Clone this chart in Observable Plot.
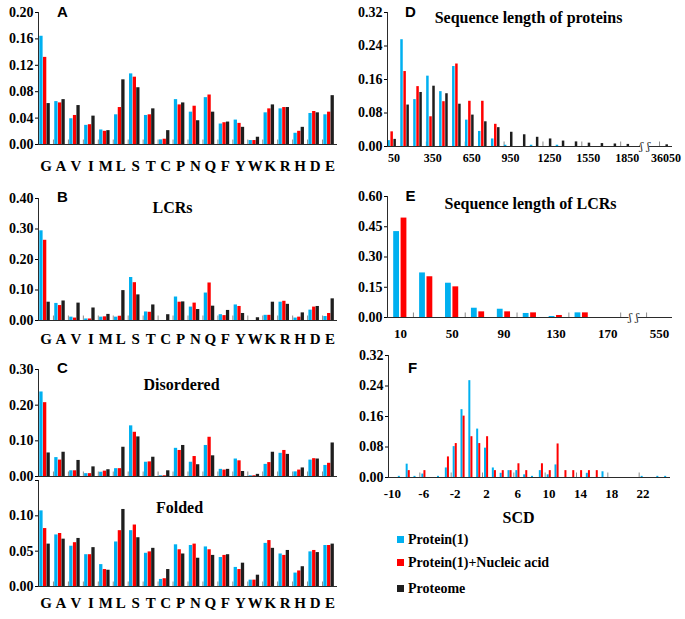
<!DOCTYPE html>
<html>
<head>
<meta charset="utf-8">
<script src="https://cdn.jsdelivr.net/npm/d3@7"></script>
<script src="https://cdn.jsdelivr.net/npm/@observablehq/plot@0.6"></script>
<style>
  body { margin: 0; background: #fff; }
  #chart { position: relative; width: 685px; height: 619px; overflow: hidden; background: #fff;
           font-family: "Liberation Serif", "Times New Roman", serif; }
  #chart svg { position: absolute; }
  .lg { position: absolute; left: 397px; height: 18px; line-height: 18px; font-size: 14px; font-weight: bold; color: #000; white-space: nowrap; }
  .lg i { display: inline-block; width: 7px; height: 7px; margin-right: 4px; vertical-align: 1px; }
</style>
</head>
<body>
<div id="chart"></div>
<script>
// ---------------- data ----------------
const aminoAcids = ["G","A","V","I","M","L","S","T","C","P","N","Q","F","Y","W","K","R","H","D","E"];

// A: whole proteins
const aProtein  = [0.164,0.065,0.039,0.029,0.022,0.045,0.107,0.044,0.007,0.068,0.049,0.071,0.031,0.037,0.006,0.048,0.054,0.017,0.047,0.045];
const aNucleic  = [0.132,0.063,0.044,0.030,0.020,0.056,0.102,0.045,0.008,0.060,0.058,0.075,0.033,0.032,0.006,0.054,0.056,0.020,0.050,0.049];
const aProteome = [0.062,0.068,0.059,0.043,0.021,0.098,0.086,0.054,0.021,0.063,0.036,0.049,0.034,0.026,0.011,0.060,0.056,0.026,0.048,0.074];

// B: LCRs
const bProtein  = [0.294,0.056,0.011,0.005,0.011,0.011,0.141,0.028,0,0.077,0.044,0.090,0.019,0.051,0,0.017,0.060,0.008,0.034,0.013];
const bNucleic  = [0.263,0.049,0.008,0.005,0.012,0.014,0.124,0.027,0,0.060,0.057,0.123,0.016,0.046,0,0.017,0.063,0.011,0.044,0.023];
const bProteome = [0.060,0.064,0.057,0.041,0.020,0.098,0.084,0.051,0.019,0.061,0.036,0.047,0.033,0.023,0.009,0.060,0.053,0.025,0.046,0.071];

// C: disordered
const cProtein  = [0.237,0.053,0.016,0.008,0.012,0.022,0.142,0.040,0.002,0.079,0.040,0.087,0.020,0.049,0.002,0.034,0.065,0.013,0.046,0.031];
const cNucleic  = [0.207,0.046,0.016,0.008,0.015,0.022,0.124,0.041,0.002,0.073,0.056,0.110,0.018,0.044,0.002,0.039,0.073,0.018,0.050,0.037];
const cProteome = [0.066,0.068,0.045,0.027,0.019,0.082,0.111,0.054,0.016,0.087,0.033,0.058,0.020,0.014,0.006,0.068,0.062,0.024,0.049,0.094];

// Folded
const fdProtein  = [0.107,0.073,0.057,0.045,0.031,0.063,0.079,0.047,0.010,0.059,0.058,0.056,0.041,0.027,0.009,0.061,0.046,0.019,0.049,0.058];
const fdNucleic  = [0.082,0.075,0.062,0.045,0.024,0.079,0.087,0.049,0.011,0.052,0.060,0.052,0.044,0.024,0.009,0.065,0.044,0.022,0.051,0.058];
const fdProteome = [0.060,0.067,0.068,0.055,0.023,0.109,0.069,0.054,0.024,0.046,0.040,0.044,0.045,0.033,0.016,0.054,0.051,0.028,0.048,0.060];

// D: sequence length of proteins
const lengthBins = ["50","150","250","350","450","550","650","750","850","950","1050","1150","1250","1350","1450","1550","1650","1750","1850","1950","break","36050"];
const lengthLabels = ["50","350","650","950","1250","1550","1850","36050"];
const dProtein  = [0.014,0.255,0.112,0.168,0.131,0.191,0.063,0.036,0.018,0.003,0,0.003,0,0.003,0,0,0,0,0,0,null,0];
const dNucleic  = [0.035,0.179,0.143,0.071,0.107,0.197,0.108,0.108,0.053,0,0,0,0,0,0,0,0,0,0,0,null,0];
const dProteome = [0.017,0.099,0.129,0.144,0.126,0.101,0.075,0.059,0.045,0.034,0.028,0.022,0.018,0.013,0.011,0.008,0.007,0.006,0.005,0.003,null,0.004];

// E: sequence length of LCRs
const lcrBins = ["10","30","50","70","90","110","130","150","170","190","550"];
const lcrLabels = ["10","50","90","130","170","550"];
const eProtein = [0.426,0.221,0.170,0.046,0.041,0.020,0.005,0.023,0,0,0];
const eNucleic = [0.493,0.202,0.152,0.028,0.028,0.023,0.010,0.023,0,0,0];

// F: SCD
const scdBins = [-10,-9,-8,-7,-6,-5,-4,-3,-2,-1,0,1,2,3,4,5,6,7,8,9,10,11,12,13,14,15,16,17,18,19,20,21,22,23,24,25];
const scdLabels = [-10,-6,-2,2,6,10,14,18,22];
const fProtein = [0,0.003,0.035,0.003,0.009,0,0.003,0.025,0.081,0.178,0.254,0.127,0.077,0.025,0.011,0.018,0.018,0.007,0.003,0.018,0.007,0.033,0,0,0,0.011,0,0.015,0,0,0,0,0.003,0,0.003,0.003];
const fNucleic = [0,0,0.018,0,0.018,0,0,0.054,0.089,0.161,0.107,0.089,0.107,0.018,0.018,0.018,0.036,0.018,0,0.036,0.018,0.088,0.018,0.018,0.018,0.018,0.018,0,0,0,0,0,0,0,0,0];

const seriesNames = ["Protein(1)", "Protein(1)+Nucleic acid", "Proteome"];
const BLUE = "#00B0F0", RED = "#FF0000", BLACK = "#1e1e1e";
const AXIS = "#2b2b2b", TICK = "#8a8a8a";
const SERIF = "'Liberation Serif', 'Times New Roman', serif";
const SANS = "'Liberation Sans', Arial, sans-serif";
const f2 = d3.format(".2f");

// ---------------- drawing ----------------
const chart = document.getElementById("chart");

function drawPanel(p) {
  const [fx0, fy0, fx1, fy1] = p.frame;
  const bw = (fx1 - fx0) / p.cats.length;
  const perPx = p.yMax / (fy1 - fy0);
  const marks = [];
  if (p.boundaryTicks) {
    marks.push(Plot.ruleX(p.boundaryTicks, {x: d => d, y1: 0, y2: 4.5 * perPx, dx: -bw / 2, stroke: TICK}));
  }
  p.series.forEach((s, i) => {
    const rows = p.cats.map((c, j) => ({cat: c, value: s.values[j]})).filter(d => d.value > 0);
    marks.push(Plot.barY(rows, {
      x: "cat", y: "value", fill: s.color,
      insetLeft: p.bar.offsets[i], insetRight: bw - p.bar.offsets[i] - p.bar.width
    }));
  });
  marks.push(Plot.ruleY([0], {stroke: AXIS}));
  marks.push(Plot.ruleX([p.cats[0]], {x: d => d, y1: 0, y2: p.yMax, dx: -bw / 2, stroke: AXIS}));
  if (p.breakCat !== undefined) {
    const shift = p.breakShift * bw;
    marks.push(Plot.barY([p.breakCat], {x: d => d, y1: -6 * perPx, y2: 6 * perPx, fill: "white",
      dx: shift, insetLeft: bw / 2 - 4.5, insetRight: bw / 2 - 4.5}));
    for (const off of [-3.5, 3.5]) {
      marks.push(Plot.text([p.breakCat], {x: d => d, y: 0, text: () => "ʃ", dx: shift + off,
        fontSize: 11, fontWeight: "normal", fontFamily: "'DejaVu Serif', serif", fill: AXIS, lineAnchor: "middle"}));
    }
  }
  marks.push(Plot.axisY({ticks: p.yTicks, tickFormat: p.yFormat || f2, tickSize: 3, tickPadding: 2,
    fontSize: 14, label: null}));
  marks.push(Plot.axisX({ticks: p.xTicks || [], tickSize: 0, tickPadding: p.xPad || 10,
    tickFormat: d => String(d), fontSize: p.xFont || 14, dx: p.xDx || 0, label: null}));
  (p.texts || []).forEach(t => {
    marks.push(Plot.text([t.text], {frameAnchor: "top-left", dx: t.x - fx0, dy: t.y - fy0, text: d => d,
      fontSize: t.size, fontFamily: t.family, fontWeight: "bold", textAnchor: "middle", lineAnchor: "middle", fill: "#000"}));
  });
  const svg = Plot.plot({
    width: p.width, height: p.height,
    marginLeft: fx0 - p.left, marginRight: p.left + p.width - fx1,
    marginTop: fy0 - p.top, marginBottom: p.top + p.height - fy1,
    x: {type: "band", domain: p.cats, padding: 0, round: false, label: null},
    y: {domain: [0, p.yMax], label: null},
    style: {background: "transparent", fontFamily: SERIF, fontWeight: "bold", fontSize: "14px", color: "#000", overflow: "visible"},
    marks
  });
  svg.style.left = p.left + "px";
  svg.style.top = p.top + "px";
  chart.appendChild(svg);
}

const aaBar = {offsets: [1.3, 5.0, 8.5], width: 3.3};
const aaTicks = aminoAcids.slice(1);
const three = (a, b, c) => [{values: a, color: BLUE}, {values: b, color: RED}, {values: c, color: BLACK}];

drawPanel({left: 0, top: 0, width: 345, height: 175, frame: [38, 12, 337, 144],
  cats: aminoAcids, series: three(aProtein, aNucleic, aProteome), bar: aaBar,
  yMax: 0.20, yTicks: [0, 0.04, 0.08, 0.12, 0.16, 0.20], xTicks: aminoAcids, xPad: 16, xFont: 15,
  boundaryTicks: aaTicks,
  texts: [{text: "A", x: 62, y: 12, size: 15, family: SANS}]});

drawPanel({left: 0, top: 175, width: 345, height: 170, frame: [38, 198, 337, 320],
  cats: aminoAcids, series: three(bProtein, bNucleic, bProteome), bar: aaBar,
  yMax: 0.40, yTicks: [0, 0.1, 0.2, 0.3, 0.4], xTicks: aminoAcids, xPad: 13, xFont: 15,
  boundaryTicks: aaTicks,
  texts: [{text: "B", x: 62, y: 197, size: 15, family: SANS}, {text: "LCRs", x: 172, y: 207, size: 16, family: SERIF}]});

drawPanel({left: 0, top: 345, width: 345, height: 135, frame: [38, 369, 337, 476],
  cats: aminoAcids, series: three(cProtein, cNucleic, cProteome), bar: aaBar,
  yMax: 0.30, yTicks: [0, 0.1, 0.2, 0.3],
  boundaryTicks: aaTicks,
  texts: [{text: "C", x: 62, y: 368, size: 15, family: SANS}, {text: "Disordered", x: 181, y: 384, size: 16, family: SERIF}]});

drawPanel({left: 0, top: 478, width: 345, height: 141, frame: [38, 480, 337, 586],
  cats: aminoAcids, series: three(fdProtein, fdNucleic, fdProteome), bar: aaBar,
  yMax: 0.15, yTicks: [0, 0.05, 0.10, 0.15], yFormat: d => d > 0.12 ? "" : f2(d),
  xTicks: aminoAcids, xPad: 11, xFont: 15,
  boundaryTicks: aaTicks,
  texts: [{text: "Folded", x: 179, y: 507, size: 16, family: SERIF}]});

drawPanel({left: 345, top: 0, width: 340, height: 175, frame: [387, 12, 672, 146],
  cats: lengthBins, series: three(dProtein, dNucleic, dProteome), bar: {offsets: [0.3, 3.4, 6.4], width: 2.5},
  yMax: 0.32, yTicks: [0, 0.08, 0.16, 0.24, 0.32], xTicks: lengthLabels, xPad: 7, xFont: 12, xDx: 0,
  boundaryTicks: ["350","650","950","1250","1550","1850","36050"],
  breakCat: "break", breakShift: -0.62,
  texts: [{text: "D", x: 410, y: 12, size: 15, family: SANS}, {text: "Sequence length of proteins", x: 528, y: 17, size: 16, family: SERIF}]});

drawPanel({left: 345, top: 175, width: 340, height: 170, frame: [387, 196, 672, 317],
  cats: lcrBins, series: [{values: eProtein, color: BLUE}, {values: eNucleic, color: RED}],
  bar: {offsets: [6.2, 13.6], width: 5.8},
  yMax: 0.60, yTicks: [0, 0.15, 0.30, 0.45, 0.60], xTicks: lcrLabels, xPad: 11, xFont: 13,
  boundaryTicks: ["30","70","110","150","190","550"],
  breakCat: "190", breakShift: 0,
  texts: [{text: "E", x: 410, y: 196, size: 15, family: SANS}, {text: "Sequence length of LCRs", x: 530, y: 203, size: 16, family: SERIF}]});

drawPanel({left: 345, top: 345, width: 340, height: 185, frame: [388, 355, 670, 477],
  cats: scdBins, series: [{values: fProtein, color: BLUE}, {values: fNucleic, color: RED}],
  bar: {offsets: [2.0, 4.1], width: 2.0},
  yMax: 0.32, yTicks: [0, 0.08, 0.16, 0.24, 0.32], xTicks: scdLabels, xPad: 11, xFont: 13,
  boundaryTicks: [-6, -2, 2, 6, 10, 14, 18, 22],
  texts: [{text: "F", x: 412, y: 368, size: 15, family: SANS}, {text: "SCD", x: 518, y: 517, size: 16, family: SERIF}]});

// legend
const legendColors = [BLUE, RED, BLACK];
const legendY = [540, 563, 589];
seriesNames.forEach((name, i) => {
  const div = document.createElement("div");
  div.className = "lg";
  div.style.top = (legendY[i] - 9) + "px";
  div.innerHTML = `<i style="background:${legendColors[i]}"></i>${name}`;
  chart.appendChild(div);
});
</script>
</body>
</html>
